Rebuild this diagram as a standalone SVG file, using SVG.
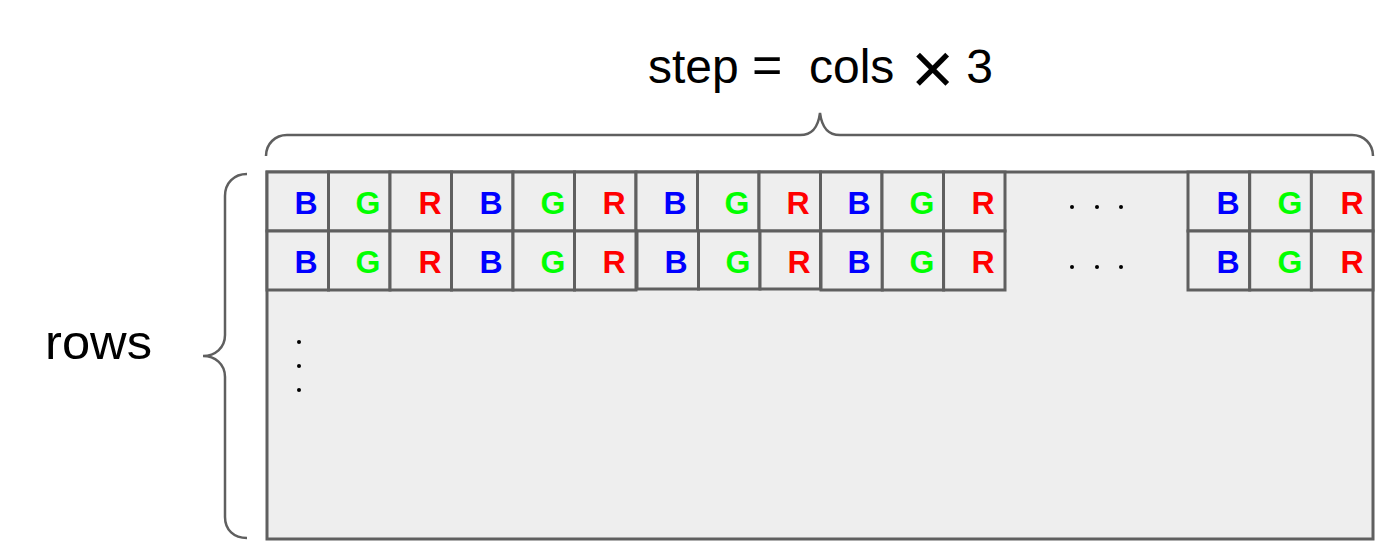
<svg xmlns="http://www.w3.org/2000/svg" width="1400" height="559" viewBox="0 0 1400 559">
<style>
.cell{fill:#eeeeee;stroke:#5f5f5f;stroke-width:3}
.frame{fill:#eeeeee;stroke:#5f5f5f;stroke-width:3}
.brace{fill:none;stroke:#5f5f5f;stroke-width:2.5}
.ch{font-family:"Liberation Sans",Arial,sans-serif;font-weight:bold;font-size:32px;text-anchor:middle}
.b{fill:#0000ff}.g{fill:#00ff00}.r{fill:#ff0000}
.lbl{font-family:"Liberation Sans",Arial,sans-serif;fill:#000000}
.dot{fill:#000000}
</style>
<g id="frame"><rect class="frame" x="267" y="172" width="1106" height="367"/></g>
<g id="row1">
<rect class="cell" x="267" y="172" width="61.5" height="59"/><rect class="cell" x="328.5" y="172" width="61.5" height="59"/><rect class="cell" x="390" y="172" width="61.5" height="59"/>
<rect class="cell" x="451.5" y="172" width="61.5" height="59"/><rect class="cell" x="513" y="172" width="61.5" height="59"/><rect class="cell" x="574.5" y="172" width="61.5" height="59"/>
<rect class="cell" x="636" y="172" width="61.5" height="59"/><rect class="cell" x="697.5" y="172" width="61.5" height="59"/><rect class="cell" x="759" y="172" width="61.5" height="59"/>
<rect class="cell" x="820.5" y="172" width="61.5" height="59"/><rect class="cell" x="882" y="172" width="61.5" height="59"/><rect class="cell" x="943.5" y="172" width="61.5" height="59"/>
<rect class="cell" x="1188" y="172" width="61.7" height="59"/><rect class="cell" x="1249.7" y="172" width="61.7" height="59"/><rect class="cell" x="1311.4" y="172" width="61.6" height="59"/>
<text class="ch b" x="306" y="214">B</text><text class="ch g" x="368" y="214">G</text><text class="ch r" x="430" y="214">R</text>
<text class="ch b" x="491" y="214">B</text><text class="ch g" x="553" y="214">G</text><text class="ch r" x="614" y="214">R</text>
<text class="ch b" x="675" y="214">B</text><text class="ch g" x="737" y="214">G</text><text class="ch r" x="798" y="214">R</text>
<text class="ch b" x="859" y="214">B</text><text class="ch g" x="922" y="214">G</text><text class="ch r" x="983" y="214">R</text>
<text class="ch b" x="1228" y="214">B</text><text class="ch g" x="1290" y="214">G</text><text class="ch r" x="1352" y="214">R</text>
<circle class="dot" cx="1072" cy="207" r="2"/><circle class="dot" cx="1097" cy="207" r="2"/><circle class="dot" cx="1121" cy="207" r="2"/>
</g>
<g id="row2">
<rect class="cell" x="267" y="231" width="61.5" height="59"/><rect class="cell" x="328.5" y="231" width="61.5" height="59"/><rect class="cell" x="390" y="231" width="61.5" height="59"/>
<rect class="cell" x="451.5" y="231" width="61.5" height="59"/><rect class="cell" x="513" y="231" width="61.5" height="59"/><rect class="cell" x="574.5" y="231" width="61.5" height="59"/>
<rect class="cell" x="637" y="231" width="61.5" height="58"/><rect class="cell" x="698.5" y="231" width="61.5" height="58"/><rect class="cell" x="760" y="231" width="60.5" height="58"/>
<rect class="cell" x="821" y="231" width="61.3" height="59"/><rect class="cell" x="882.3" y="231" width="61.3" height="59"/><rect class="cell" x="943.6" y="231" width="61.4" height="59"/>
<rect class="cell" x="1188" y="231" width="61.7" height="59"/><rect class="cell" x="1249.7" y="231" width="61.7" height="59"/><rect class="cell" x="1311.4" y="231" width="61.6" height="59"/>
<text class="ch b" x="306" y="273">B</text><text class="ch g" x="368" y="273">G</text><text class="ch r" x="430" y="273">R</text>
<text class="ch b" x="491" y="273">B</text><text class="ch g" x="553" y="273">G</text><text class="ch r" x="614" y="273">R</text>
<text class="ch b" x="676" y="273">B</text><text class="ch g" x="738" y="273">G</text><text class="ch r" x="799" y="273">R</text>
<text class="ch b" x="859" y="273">B</text><text class="ch g" x="922" y="273">G</text><text class="ch r" x="983" y="273">R</text>
<text class="ch b" x="1228" y="273">B</text><text class="ch g" x="1290" y="273">G</text><text class="ch r" x="1352" y="273">R</text>
<circle class="dot" cx="1072" cy="267" r="2"/><circle class="dot" cx="1097" cy="267" r="2"/><circle class="dot" cx="1121" cy="267" r="2"/>
</g>
<g id="vdots">
<circle class="dot" cx="299" cy="342" r="2"/><circle class="dot" cx="299" cy="366" r="2"/><circle class="dot" cx="299" cy="390" r="2"/>
</g>
<g id="braces">
<path class="brace" d="M266,156 C266,144 275,135 287,135 L800,135 C812,135 818,128 820,113 C822,128 828,135 840,135 L1352,135 C1364,135 1373,144 1373,156"/>
<path class="brace" d="M247,174 C234,174 225,183 225,196 L225,335 C225,348 215,356 203,356 C215,356 225,364 225,377 L225,517 C225,530 234,538 247,538"/>
</g>
<g id="title">
<text class="lbl" y="83" font-size="48"><tspan x="648">step </tspan><tspan x="752" font-size="52">= </tspan><tspan x="809">cols </tspan><tspan x="911" dy="11" font-size="74">×</tspan><tspan x="953" dy="-11"> 3</tspan></text>
</g>
<g id="rows-label">
<text class="lbl" x="45" y="359" font-size="48" textLength="107" lengthAdjust="spacingAndGlyphs">rows</text>
</g>
</svg>
